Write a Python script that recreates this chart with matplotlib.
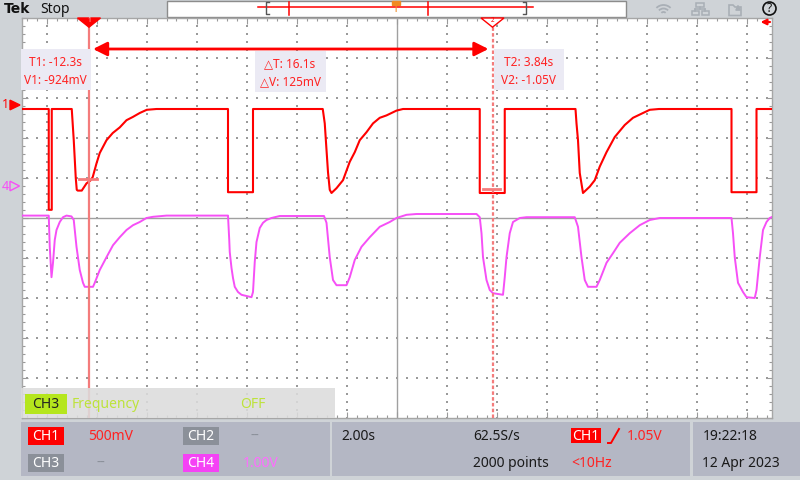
import numpy as np
import matplotlib
matplotlib.use("Agg")
import matplotlib.pyplot as plt
from matplotlib.patches import Rectangle, Polygon, Circle, Arc, FancyArrowPatch
from matplotlib.lines import Line2D

plt.rcParams['font.family'] = ['Noto Sans', 'DejaVu Sans']

# ---------------- data (time in s, volts) ----------------
ch1_t = [-15.0, -13.91, -13.91, -13.79, -13.79, -12.99, -12.91, -12.83, -12.79, -12.75,
         -12.59, -12.4, -12.23, -12.15, -12.0, -11.87, -11.6, -11.35, -11.07, -10.8,
         -10.55, -10.27, -9.99, -9.6, -6.74, -6.74, -5.74, -5.74, -2.95, -2.87,
         -2.8, -2.74, -2.67, -2.6, -2.4, -2.14, -1.87, -1.67, -1.47, -1.2,
         -0.94, -0.67, -0.4, 0.0, 0.26, 3.33, 3.33, 4.33, 4.33, 7.16,
         7.2, 7.26, 7.33, 7.46, 7.73, 7.93, 8.13, 8.4, 8.73, 9.13,
         9.46, 9.86, 10.13, 10.5, 13.4, 13.4, 14.4, 14.4, 15.0]
ch1_v = [-0.05, -0.05, -1.31, -1.31, -0.05, -0.05, -0.44, -0.91, -1.06, -1.07,
         -1.07, -0.98, -0.94, -0.90, -0.73, -0.60, -0.44, -0.35, -0.28, -0.19,
         -0.15, -0.10, -0.06, -0.05, -0.05, -1.09, -1.09, -0.05, -0.05, -0.23,
         -0.56, -0.84, -1.06, -1.10, -1.04, -0.94, -0.71, -0.59, -0.44, -0.34,
         -0.23, -0.16, -0.13, -0.07, -0.05, -0.05, -1.10, -1.10, -0.05, -0.05,
         -0.23, -0.44, -0.85, -1.10, -1.02, -0.94, -0.77, -0.59, -0.40, -0.25,
         -0.16, -0.10, -0.06, -0.05, -0.05, -1.09, -1.09, -0.05, -0.05]

ch4_t = [-15.0, -13.91, -13.87, -13.8, -13.74, -13.67, -13.6, -13.47, -13.34, -13.2,
         -13.0, -12.91, -12.8, -12.67, -12.54, -12.47, -12.14, -12.07, -11.87, -11.6,
         -11.34, -11.07, -10.8, -10.54, -10.27, -10.0, -9.74, -9.2, -6.74, -6.69,
         -6.67, -6.6, -6.54, -6.47, -6.34, -6.2, -5.8, -5.74, -5.67, -5.6,
         -5.47, -5.34, -5.2, -5.0, -4.67, -2.9, -2.8, -2.67, -2.54, -2.4,
         -2.0, -1.87, -1.67, -1.4, -1.07, -0.67, -0.27, 0.0, 0.4, 0.8,
         3.2, 3.33, 3.4, 3.46, 3.6, 3.73, 3.86, 4.26, 4.33, 4.4,
         4.53, 4.66, 4.93, 5.2, 7.13, 7.26, 7.4, 7.53, 7.66, 8.0,
         8.13, 8.4, 8.66, 8.93, 9.33, 9.73, 10.13, 10.53, 13.4, 13.46,
         13.53, 13.66, 13.86, 14.0, 14.33, 14.4, 14.53, 14.66, 14.8, 14.93, 15.0]
ch4_v = [-0.74, -0.74, -1.52, -2.28, -1.92, -1.35, -1.10, -0.90, -0.78, -0.74,
         -0.76, -0.85, -1.52, -2.10, -2.42, -2.52, -2.52, -2.42, -2.10, -1.78,
         -1.48, -1.28, -1.10, -0.98, -0.90, -0.80, -0.77, -0.74, -0.74, -1.35,
         -1.65, -2.05, -2.30, -2.52, -2.65, -2.72, -2.78, -2.65, -1.90, -1.40,
         -1.05, -0.92, -0.85, -0.80, -0.75, -0.75, -0.92, -1.78, -2.35, -2.48,
         -2.48, -2.28, -1.85, -1.52, -1.28, -1.02, -0.90, -0.80, -0.72, -0.70,
         -0.70, -0.78, -1.18, -1.78, -2.35, -2.60, -2.68, -2.72, -2.28, -1.78,
         -1.18, -0.90, -0.80, -0.78, -0.78, -1.02, -1.78, -2.35, -2.52, -2.52,
         -2.35, -1.92, -1.68, -1.42, -1.18, -0.98, -0.85, -0.80, -0.80, -1.18,
         -1.78, -2.42, -2.65, -2.78, -2.80, -2.60, -1.78, -1.10, -0.90, -0.80, -0.78]

sec_per_div = 2.0
ch1_volts_per_div = 0.5
ch4_volts_per_div = 1.0
ch1_position_div = 2.825
ch4_position_div = 0.8

cursor_t = [-12.3, 3.84]
cursor_v = [-0.924, -1.05]
label_c1 = ["T1: -12.3s", "V1: -924mV"]
label_delta = ["\u25b3T: 16.1s", "\u25b3V: 125mV"]
label_c2 = ["T2: 3.84s", "V2: -1.05V"]

# ---------------- colours ----------------
RED = '#ff0000'
MAG = '#f64ff6'
CUR = '#f47c7c'
GRID = '#9a9a9a'
PANEL = '#b4b7c4'
TXTRED = '#ff2222'

W, H = 800, 480
fig = plt.figure(figsize=(8, 4.8), dpi=100, facecolor='#cfd3d7')

# ---------------- background chrome ----------------
bg = fig.add_axes([0, 0, 1, 1], zorder=0)
bg.set_xlim(0, W); bg.set_ylim(H, 0); bg.axis('off')

bg.text(3.5, 9, "Tek", fontsize=10, fontweight='bold', family=['DejaVu Sans'],
        va='center', ha='left', color='#111111')
bg.text(40, 9.5, "Stop", fontsize=10, va='center', ha='left', color='#111111')
bg.add_patch(Rectangle((166.5, 1), 459, 16, facecolor='white', edgecolor='#8c8c8c', lw=1))
bg.add_line(Line2D([258, 533], [7, 7], color=RED, lw=1.1))
bg.add_line(Line2D([269, 266, 266, 269], [2, 2, 14, 14], color='#555555', lw=1))
bg.add_line(Line2D([523, 526, 526, 523], [2, 2, 14, 14], color='#555555', lw=1))
bg.add_line(Line2D([289, 289], [2, 15], color=RED, lw=1.1))
bg.add_line(Line2D([428, 428], [2, 15], color=RED, lw=1.1))
bg.add_patch(Polygon([(392, 1), (399.5, 1), (399.5, 4.5), (392, 4.5)], closed=True, color='#f08a24'))
bg.text(395.8, 10, "T", fontsize=8, fontweight='bold', color='#f08a24', ha='center', va='center')

# icons
ic = '#a9afb6'
for r in (3, 6.5, 10):
    bg.add_patch(Arc((663.5, 15), 2 * r, 2 * r, theta1=225, theta2=315, color=ic, lw=1.3))
bg.add_patch(Rectangle((696, 2.5), 8, 4.5, fill=False, edgecolor=ic, lw=1.1))
bg.add_line(Line2D([700, 700], [7, 9], color=ic, lw=1.1))
bg.add_line(Line2D([695, 705], [9, 9], color=ic, lw=1.1))
bg.add_line(Line2D([695, 695], [9, 10.5], color=ic, lw=1.1))
bg.add_line(Line2D([705, 705], [9, 10.5], color=ic, lw=1.1))
bg.add_patch(Rectangle((691.5, 10.5), 7, 4.5, fill=False, edgecolor=ic, lw=1.1))
bg.add_patch(Rectangle((701.5, 10.5), 7, 4.5, fill=False, edgecolor=ic, lw=1.1))
bg.add_patch(Polygon([(729, 5), (733, 5), (735, 7), (741, 7), (741, 15.5), (729, 15.5)],
                     closed=True, fill=False, edgecolor=ic, lw=1.2))
bg.add_patch(FancyArrowPatch((738, 11), (738, 1.5), arrowstyle='-|>', mutation_scale=7,
                             color=ic, lw=1.2))
bg.add_patch(Circle((769.5, 8.5), 6.5, fill=False, edgecolor='#111111', lw=1.2))
bg.text(769.6, 9, "?", fontsize=8.5, ha='center', va='center', color='#111111')

# bottom panels
bg.add_patch(Rectangle((21, 421.5), 308.5, 54, facecolor=PANEL, edgecolor='none'))
bg.add_patch(Rectangle((331.5, 421.5), 358.5, 54, facecolor=PANEL, edgecolor='none'))
bg.add_patch(Rectangle((692.5, 421.5), 108, 54, facecolor=PANEL, edgecolor='none'))

def badge(x0, x1, y0, y1, col, txt, tcol='white'):
    bg.add_patch(Rectangle((x0, y0), x1 - x0, y1 - y0, facecolor=col, edgecolor='none'))
    bg.text((x0 + x1) / 2, (y0 + y1) / 2 + 0.5, txt, fontsize=10, color=tcol,
            ha='center', va='center')

badge(28.3, 64, 427, 445, RED, "CH1")
bg.text(88, 436.5, "500mV", fontsize=10, color=TXTRED, va='center', ha='left')
badge(183.3, 219, 427, 445, '#8b9099', "CH2")
bg.text(250.5, 436.5, "--", fontsize=10, color='#8b9099', va='center', ha='left')
badge(28.3, 64, 454, 472, '#8b9099', "CH3")
bg.text(96.5, 463.5, "--", fontsize=10, color='#8b9099', va='center', ha='left')
badge(183.3, 219, 454, 472, '#f542f5', "CH4")
bg.text(243, 463.5, "1.00V", fontsize=10, color='#ff6cff', va='center', ha='left')

dark = '#1a1a1a'
bg.text(341.5, 436.5, "2.00s", fontsize=10, color=dark, va='center', ha='left')
bg.text(473, 436.5, "62.5S/s", fontsize=10, color=dark, va='center', ha='left')
bg.text(473, 463.5, "2000 points", fontsize=10, color=dark, va='center', ha='left')
bg.add_patch(Rectangle((571, 428.3), 30, 14.5, facecolor=RED, edgecolor='none'))
bg.text(586, 436, "CH1", fontsize=10, color='white', va='center', ha='center')
bg.add_line(Line2D([608, 611, 619], [443, 443, 429], color=RED, lw=1.4))
bg.text(626.5, 436.5, "1.05V", fontsize=10, color=TXTRED, va='center', ha='left')
bg.text(571, 463.5, "<10Hz", fontsize=10, color=TXTRED, va='center', ha='left')
bg.text(702.5, 436.5, "19:22:18", fontsize=10, color=dark, va='center', ha='left')
bg.text(702.5, 463.5, "12 Apr 2023", fontsize=10, color=dark, va='center', ha='left')

# ---------------- scope graticule ----------------
L, T, R, B = 21.5, 18, 771.5, 418
ax = fig.add_axes([L / W, 1 - B / H, (R - L) / W, (B - T) / H], zorder=1)
ax.set_facecolor('white')
ax.set_xlim(-7.5 * sec_per_div, 7.5 * sec_per_div)
ax.set_ylim(-5, 5)
for s in ax.spines.values():
    s.set_color('#a6a6a6'); s.set_linewidth(1.0)
ax.set_xticks(np.arange(-7, 8) * sec_per_div)
ax.set_xticks(np.arange(-37, 38) * sec_per_div / 5, minor=True)
ax.set_yticks(np.arange(-5, 6))
ax.set_yticks(np.arange(-25, 26) / 5, minor=True)
ax.tick_params(which='both', direction='in', top=True, right=True, labelbottom=False,
               labelleft=False, color='#9a9a9a', width=0.8)
ax.tick_params(which='major', length=4)
ax.tick_params(which='minor', length=2)

cols = [c for c in np.arange(-7, 8) * sec_per_div if c != 0]
ys = np.arange(-25, 26) / 5
gx, gy = np.meshgrid(cols, ys)
ax.scatter(gx.ravel(), gy.ravel(), s=1.2, marker='s', color=GRID, linewidths=0, zorder=1)
rows = [r for r in range(-4, 5) if r != 0]
xs = np.arange(-37, 38) * sec_per_div / 5
gx, gy = np.meshgrid(xs, rows)
ax.scatter(gx.ravel(), gy.ravel(), s=1.2, marker='s', color=GRID, linewidths=0, zorder=1)
ax.axhline(0, color='#a0a0a0', lw=1.0, zorder=1)
ax.axvline(0, color='#a0a0a0', lw=1.0, zorder=1)

# waveforms
ch1_y = ch1_position_div + np.array(ch1_v) / ch1_volts_per_div
ch4_y = ch4_position_div + np.array(ch4_v) / ch4_volts_per_div
ax.plot(ch4_t, ch4_y, color=MAG, lw=1.4, zorder=3)
ax.plot(ch1_t, ch1_y, color=RED, lw=1.5, zorder=4)

# cursors
ax.axvline(cursor_t[0], color=CUR, lw=1.6, zorder=5)
ax.axvline(cursor_t[1], color=CUR, lw=1.6, ls=(0, (1.6, 1.0)), zorder=5)
for t, v in zip(cursor_t, cursor_v):
    yv = ch1_position_div + v / ch1_volts_per_div
    ax.plot([t - 0.4, t + 0.3], [yv, yv], color=CUR, lw=2.0, zorder=5)

arrow_y = 4.225
ax.add_patch(FancyArrowPatch((cursor_t[0] + 0.05, arrow_y), (cursor_t[1] - 0.05, arrow_y),
                             arrowstyle='<|-|>,head_length=0.7,head_width=0.35',
                             mutation_scale=12, color=RED, lw=2.0, zorder=6))

# cursor top markers
t1 = cursor_t[0]
ax.add_patch(Polygon([(t1 - 0.46, 5.0), (t1 + 0.46, 5.0), (t1, 4.77)], closed=True,
                     color=RED, clip_on=False, zorder=7))
ax.text(t1, 4.93, "1", fontsize=4.5, color='#ffd0d0', ha='center', va='center', zorder=8)
t2 = cursor_t[1]
ax.add_patch(Polygon([(t2 - 0.46, 5.0), (t2 + 0.46, 5.0), (t2, 4.77)], closed=True,
                     facecolor='white', edgecolor=RED, lw=1.0, clip_on=False, zorder=7))
ax.text(t2, 4.93, "2", fontsize=4.5, color=RED, ha='center', va='center', zorder=8)

# right-edge marker
ax.annotate('', xy=(14.45, 4.9), xytext=(15.05, 4.9), annotation_clip=False,
            arrowprops=dict(arrowstyle='-|>', color=RED, lw=1.6, mutation_scale=8))

# channel markers on left
px = 1.0 / 25.0  # seconds per pixel
x_left = -7.5 * sec_per_div
ax.text(x_left - 16.5 * px, ch1_position_div, "1", fontsize=9, color=RED,
        ha='center', va='center', clip_on=False)
ax.add_patch(Polygon([(x_left - 11.5 * px, ch1_position_div + 0.12),
                      (x_left - 11.5 * px, ch1_position_div - 0.12),
                      (x_left - 1.5 * px, ch1_position_div)], closed=True, color=RED,
                     clip_on=False))
ax.text(x_left - 16.5 * px, ch4_position_div, "4", fontsize=9, color=MAG,
        ha='center', va='center', clip_on=False)
ax.add_patch(Polygon([(x_left - 11.5 * px, ch4_position_div + 0.12),
                      (x_left - 11.5 * px, ch4_position_div - 0.12),
                      (x_left - 2 * px, ch4_position_div)], closed=True, facecolor='none',
                     edgecolor=MAG, lw=1.0, clip_on=False))

# ---------------- overlay ----------------
ov = fig.add_axes([0, 0, 1, 1], zorder=2)
ov.set_xlim(0, W); ov.set_ylim(H, 0); ov.axis('off'); ov.patch.set_visible(False)

box = '#ebeaf4'
ov.add_patch(Rectangle((21, 49.3), 69.5, 40.7, facecolor=box, edgecolor='none'))
ov.text(55.5, 62.5, label_c1[0], fontsize=8.5, color=TXTRED, ha='center', va='center')
ov.text(55.5, 80, label_c1[1], fontsize=8.5, color=TXTRED, ha='center', va='center')
ov.add_patch(Rectangle((255, 51), 71, 40.7, facecolor=box, edgecolor='none'))
ov.text(290, 64, label_delta[0], fontsize=8.5, color=TXTRED, ha='center', va='center')
ov.text(290, 81.5, label_delta[1], fontsize=8.5, color=TXTRED, ha='center', va='center')
ov.add_patch(Rectangle((493.5, 49.3), 70, 40.7, facecolor=box, edgecolor='none'))
ov.text(528.5, 62.5, label_c2[0], fontsize=8.5, color=TXTRED, ha='center', va='center')
ov.text(528.5, 80, label_c2[1], fontsize=8.5, color=TXTRED, ha='center', va='center')

# measurement bar
ov.add_patch(Rectangle((21, 388.3), 314, 30, facecolor='#dcdcdc', edgecolor='none', alpha=0.88))
ov.add_patch(Rectangle((25, 394), 41.7, 20, facecolor='#b5e61d', edgecolor='none'))
ov.text(45.8, 404.5, "CH3", fontsize=10, color='#222222', ha='center', va='center')
ov.text(71.5, 404.5, "Frequency", fontsize=10, color='#bde33a', ha='left', va='center')
ov.text(240.5, 404.5, "OFF", fontsize=10, color='#bde33a', ha='left', va='center')

fig.savefig('out.png', dpi=100, facecolor=fig.get_facecolor())
